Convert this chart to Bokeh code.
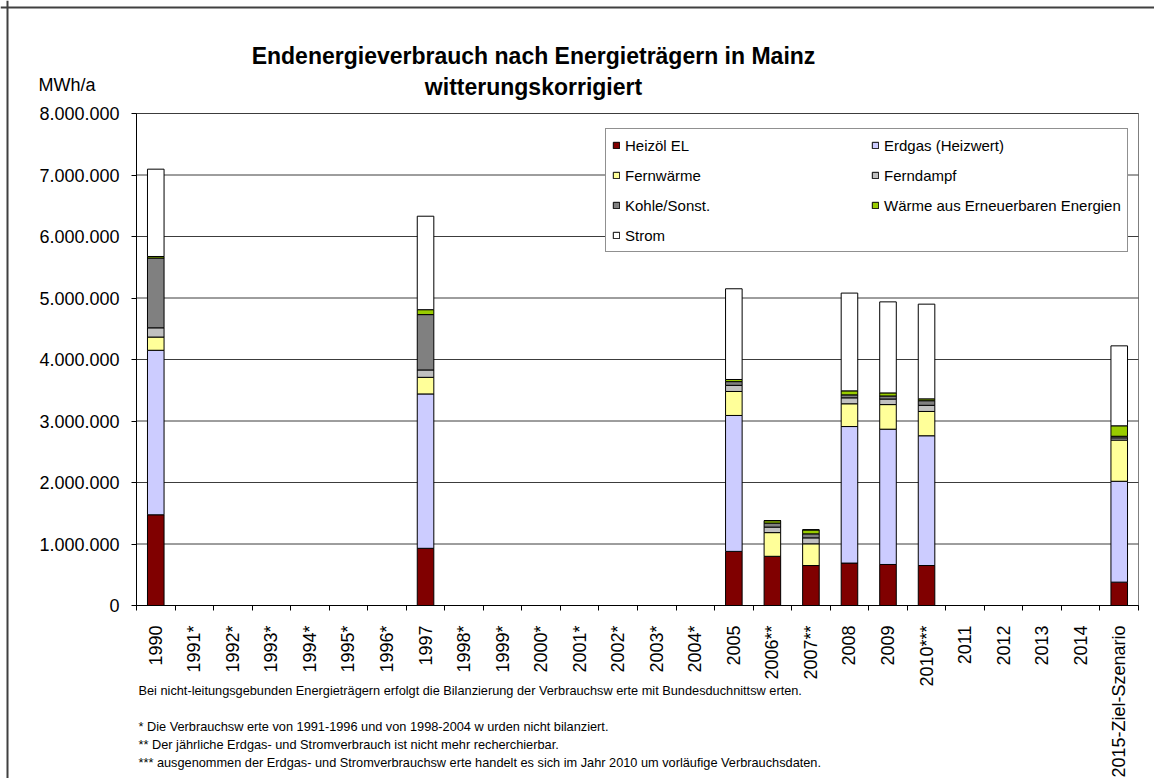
import math
from bokeh.plotting import figure
from bokeh.models import (ColumnDataSource, FixedTicker, Label, Legend, LegendItem, Range1d, Span)
from bokeh.embed import file_html
from bokeh.resources import INLINE

# ---------------- data ----------------
categories = ["1990", "1991*", "1992*", "1993*", "1994*", "1995*", "1996*", "1997",
              "1998*", "1999*", "2000*", "2001*", "2002*", "2003*", "2004*", "2005",
              "2006**", "2007**", "2008", "2009", "2010***", "2011", "2012", "2013",
              "2014", "2015-Ziel-Szenario"]

series_names = ["Heizöl EL", "Erdgas (Heizwert)", "Fernwärme", "Ferndampf",
                "Kohle/Sonst.", "Wärme aus Erneuerbaren Energien", "Strom"]
series_colors = ["#800000", "#CCCCFF", "#FFFF99", "#C0C0C0", "#808080", "#99CC00", "#FFFFFF"]

#             1990     91-96          1997    98-04                 2005    2006    2007    2008    2009    2010    11-14       2015Z
heizoel    = [1475000, 0, 0, 0, 0, 0, 0, 930000, 0, 0, 0, 0, 0, 0, 0, 880000, 800000, 650000, 690000, 667000, 650000, 0, 0, 0, 0, 380000]
erdgas     = [2675000, 0, 0, 0, 0, 0, 0, 2510000, 0, 0, 0, 0, 0, 0, 0, 2210000, 0, 0, 2220000, 2200000, 2110000, 0, 0, 0, 0, 1640000]
fernwaerme = [215000, 0, 0, 0, 0, 0, 0, 270000, 0, 0, 0, 0, 0, 0, 0, 390000, 385000, 353000, 370000, 400000, 395000, 0, 0, 0, 0, 670000]
ferndampf  = [150000, 0, 0, 0, 0, 0, 0, 120000, 0, 0, 0, 0, 0, 0, 0, 100000, 90000, 97000, 97000, 90000, 100000, 0, 0, 0, 0, 35000]
kohle      = [1135000, 0, 0, 0, 0, 0, 0, 900000, 0, 0, 0, 0, 0, 0, 0, 60000, 65000, 65000, 48000, 50000, 75000, 0, 0, 0, 0, 27000]
erneuerbar = [25000, 0, 0, 0, 0, 0, 0, 80000, 0, 0, 0, 0, 0, 0, 0, 35000, 40000, 65000, 65000, 50000, 30000, 0, 0, 0, 0, 170000]
strom      = [1420000, 0, 0, 0, 0, 0, 0, 1520000, 0, 0, 0, 0, 0, 0, 0, 1475000, 0, 0, 1590000, 1480000, 1540000, 0, 0, 0, 0, 1300000]

y_ticks = [0, 1000000, 2000000, 3000000, 4000000, 5000000, 6000000, 7000000, 8000000]
y_tick_labels = ["0", "1.000.000", "2.000.000", "3.000.000", "4.000.000",
                 "5.000.000", "6.000.000", "7.000.000", "8.000.000"]

title_lines = ["Endenergieverbrauch nach Energieträgern in Mainz", "witterungskorrigiert"]
unit_label = "MWh/a"
footnotes = [
    "Bei nicht-leitungsgebunden Energieträgern erfolgt die Bilanzierung der Verbrauchsw erte mit Bundesduchnittsw erten.",
    "* Die Verbrauchsw erte von 1991-1996 und von 1998-2004 w urden nicht bilanziert.",
    "** Der jährliche Erdgas- und Stromverbrauch ist nicht mehr recherchierbar.",
    "*** ausgenommen der Erdgas- und Stromverbrauchsw erte handelt es sich im Jahr 2010 um vorläufige Verbrauchsdaten.",
]

# ---------------- layout constants (canvas pixels) ----------------
# The plot frame covers the whole canvas; the chart area is placed inside it
AREA_L, AREA_R, AREA_T, AREA_B = 136, 1138, 113, 605
W, H = 1154, 778
N = len(categories)
YMAX = 8000000
FONT = "Liberation Sans"

SX = (AREA_R - AREA_L) / N          # px per category
SY = (AREA_B - AREA_T) / YMAX       # px per MWh/a


def dx(px):
    return (px - AREA_L) / SX


def dy(py):
    return (AREA_B - py) / SY


keys = ["heizoel", "erdgas", "fernwaerme", "ferndampf", "kohle", "erneuerbar", "strom"]
all_vals = [heizoel, erdgas, fernwaerme, ferndampf, kohle, erneuerbar, strom]
idx = [i for i in range(N) if sum(v[i] for v in all_vals) > 0]
data = {"x": [i + 0.5 for i in idx]}
for k, v in zip(keys, all_vals):
    data[k] = [v[i] for i in idx]
src = ColumnDataSource(data)

p = figure(width=W, height=H, x_range=Range1d(dx(0), dx(W)), y_range=Range1d(dy(H), dy(0)),
           output_backend="svg", toolbar_location=None, min_border=0)
p.background_fill_color = "white"
p.border_fill_color = "white"
p.outline_line_color = None
p.xgrid.visible = False
p.ygrid.visible = False

# outer chart frame (top and left edges visible)
p.add_layout(Span(location=dy(7), dimension="width", line_color="#404040", line_width=2))
p.add_layout(Span(location=dx(7), dimension="height", line_color="#404040", line_width=2))

# plot area: border, horizontal gridlines
p.quad(left=0, right=N, bottom=0, top=YMAX, fill_color="white", line_color="#7f7f7f", line_width=1)
p.segment(x0=[0] * len(y_ticks), x1=[N] * len(y_ticks), y0=y_ticks, y1=y_ticks,
          line_color="#3c3c3c", line_width=1)

renderers = p.vbar_stack(keys, x="x", width=0.43, source=src,
                         fill_color=series_colors, line_color="black", line_width=1)

# axes (fixed inside the frame)
xa = p.xaxis[0]
xa.fixed_location = 0
xa.bounds = (0, N)
xa.ticker = FixedTicker(ticks=[i + 0.5 for i in range(N)], minor_ticks=list(range(N + 1)))
xa.major_label_overrides = {i + 0.5: c for i, c in enumerate(categories)}
xa.major_label_orientation = math.pi / 2
xa.major_tick_out = 0
xa.major_tick_in = 0
xa.minor_tick_out = 5
xa.minor_tick_in = 0
xa.minor_tick_line_color = "black"
xa.axis_line_color = "black"
xa.major_label_standoff = 15
xa.major_label_text_font = FONT
xa.major_label_text_font_size = "18px"
xa.major_label_text_color = "black"

ya = p.yaxis[0]
ya.fixed_location = 0
ya.bounds = (0, YMAX)
ya.ticker = FixedTicker(ticks=y_ticks)
ya.major_label_overrides = {t: l for t, l in zip(y_ticks, y_tick_labels)}
ya.major_tick_out = 5
ya.major_tick_in = 0
ya.minor_tick_line_color = None
ya.axis_line_color = "black"
ya.major_tick_line_color = "black"
ya.major_label_standoff = 12
ya.major_label_text_font = FONT
ya.major_label_text_font_size = "18px"
ya.major_label_text_color = "black"

# legend
items = [LegendItem(label=n, renderers=[r]) for n, r in zip(series_names, renderers)]
legend = Legend(items=items, location=(605, H - 252),
                orientation="horizontal", ncols=2,
                glyph_width=8, glyph_height=8, label_standoff=5, label_width=236,
                label_height=20, spacing=10, padding=6, margin=0,
                label_text_font=FONT, label_text_font_size="15px", label_text_color="black",
                border_line_color="#222222", border_line_width=1,
                background_fill_color="white", background_fill_alpha=1.0)
p.add_layout(legend)

# title & texts
cx = dx(533)
p.add_layout(Label(x=cx, y=dy(55.5), text=title_lines[0], text_align="center",
                   text_baseline="middle", text_font=FONT, text_font_size="23px",
                   text_font_style="bold", text_color="black"))
p.add_layout(Label(x=cx, y=dy(86.5), text=title_lines[1], text_align="center",
                   text_baseline="middle", text_font=FONT, text_font_size="23px",
                   text_font_style="bold", text_color="black"))
p.add_layout(Label(x=dx(38), y=dy(84.5), text=unit_label, text_align="left",
                   text_baseline="middle", text_font=FONT, text_font_size="18px",
                   text_color="black"))
for t, yc in zip(footnotes, [690, 725.7, 744, 761.7]):
    p.add_layout(Label(x=dx(138), y=dy(yc), text=t, text_align="left",
                       text_baseline="middle", text_font=FONT, text_font_size="12.75px",
                       text_color="black"))

open("out.html", "w").write(file_html(p, INLINE))
